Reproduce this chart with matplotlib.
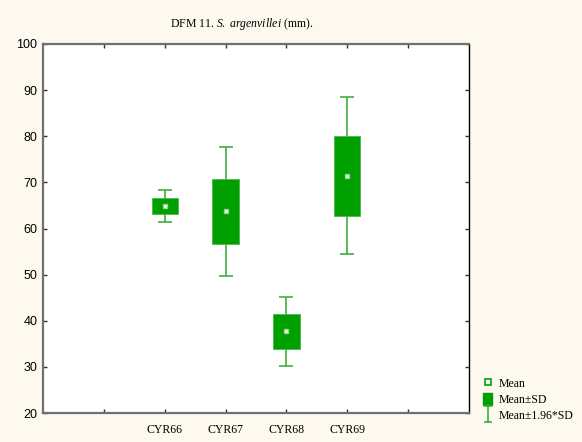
import numpy as np
import matplotlib
matplotlib.use("Agg")
import matplotlib.pyplot as plt
from matplotlib.lines import Line2D
from matplotlib.patches import Patch
from matplotlib.path import Path

# sample groups and their summary statistics (mm)
groups = ["CYR66", "CYR67", "CYR68", "CYR69"]
means = [64.9, 63.7, 37.7, 71.45]
sds = [1.75, 7.1, 3.8, 8.65]

green = "#00a000"
whisker_green = "#3fae3f"
bg = "#fdf9ef"

plt.rcParams["mathtext.fontset"] = "custom"
plt.rcParams["mathtext.rm"] = "Liberation Serif"
plt.rcParams["mathtext.it"] = "Liberation Serif:italic"

pos = np.arange(2, 2 + len(groups))
means = np.array(means)
sds = np.array(sds)

fig = plt.figure(figsize=(5.82, 4.42), dpi=100, facecolor=bg)
ax = fig.add_axes([43 / 582, 1 - 413 / 442, 426 / 582, 369 / 442])
ax.set_facecolor("white")

# whiskers: mean +/- 1.96*SD
ax.errorbar(pos, means, yerr=1.96 * sds, fmt="none", ecolor=whisker_green,
            elinewidth=1.2, capsize=4.8, capthick=1.2, zorder=2)
# boxes: mean +/- SD
ax.bar(pos, 2 * sds, bottom=means - sds, width=0.43, color=green,
       edgecolor="#4cb84c", linewidth=0.6, zorder=3)
# means
ax.plot(pos, means, "s", ms=3.5, mfc="white", mec="#8fd68f", mew=1.0, zorder=4)

ax.set_xlim(0, 7)
ax.set_ylim(20, 100)
ax.set_yticks(np.arange(20, 101, 10))
ax.set_xticks(np.arange(1, 7))
ax.set_xticklabels([""] + groups + [""], family="Liberation Serif", fontsize=8.5)
for lbl in ax.get_yticklabels():
    lbl.set_family("Liberation Sans")
    lbl.set_fontsize(9)
ax.tick_params(axis="both", direction="in", length=3, width=1,
               top=True, right=True, color="#333333")
ax.tick_params(axis="x", pad=8)
ax.tick_params(axis="y", pad=4)

for side in ["left", "bottom", "top"]:
    ax.spines[side].set_color("#707070")
    ax.spines[side].set_linewidth(1.6)
ax.spines["right"].set_color("black")
ax.spines["right"].set_linewidth(1.0)

fig.text(242 / 582, 1 - 24 / 442,
         r"DFM 11. $\mathit{S.\ argenvillei}$ (mm).",
         ha="center", va="center", family="Liberation Serif", fontsize=8.5)

# I-beam marker for the 1.96*SD legend entry
ibeam = Path([(-0.5, -1), (0.5, -1), (0, -1), (0, 1), (-0.5, 1), (0.5, 1)],
             [Path.MOVETO, Path.LINETO, Path.MOVETO, Path.LINETO,
              Path.MOVETO, Path.LINETO])
handles = [
    Line2D([], [], ls="none", marker="s", ms=4, mfc="white", mec=green, mew=1.2),
    Patch(facecolor=green, edgecolor=green),
    Line2D([], [], ls="none", marker=ibeam, ms=11, mec=whisker_green,
           mfc="none", mew=1.2),
]
fig.legend(handles, ["Mean", "Mean\u00b1SD", "Mean\u00b11.96*SD"],
           loc="lower left", bbox_to_anchor=(477 / 582, 1 - 428 / 442),
           frameon=False, handlelength=0.8, handleheight=1.1,
           handletextpad=0.5, labelspacing=0.3, borderpad=0,
           prop={"family": "Liberation Serif", "size": 8.5})

fig.savefig("out.png", dpi=100, facecolor=bg)
